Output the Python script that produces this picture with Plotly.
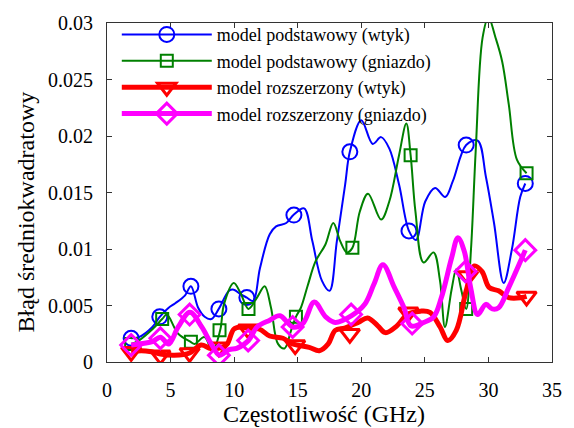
import plotly.graph_objects as go

# ---- data ----
blue_x = [1.9, 2.5, 3.57, 4.15, 4.85, 5.37, 6.14, 6.6, 7.17, 7.68, 8.2, 8.79, 9.6, 9.97, 10.5, 11.0, 11.5,
          12.03, 12.8, 13.3, 14.1, 14.66, 15.5, 16.15, 16.9, 17.5, 18.08, 18.73, 19.1, 20.0, 20.9, 21.56,
          22.2, 22.97, 23.75, 24.3, 25.03, 25.8, 26.6, 27.2, 28.25, 29.15, 29.8, 30.44, 31.2, 31.85, 32.5, 32.9]
blue_y = [0.0021, 0.0022, 0.0031, 0.0040, 0.0048, 0.0052, 0.0059, 0.0067, 0.0048, 0.0040, 0.0038, 0.0047,
          0.0063, 0.0064, 0.0060, 0.0057, 0.0054, 0.0083, 0.0113, 0.0120, 0.0123, 0.0130, 0.0136, 0.0107,
          0.0072, 0.0063, 0.0107, 0.0157, 0.0186, 0.0214, 0.0193, 0.0199, 0.0189, 0.0157, 0.0116, 0.0108,
          0.0142, 0.0154, 0.0146, 0.0160, 0.0192, 0.0196, 0.0164, 0.0123, 0.0070, 0.0100, 0.0146, 0.0158]
blue_mx = [1.9, 4.15, 6.6, 8.8, 11.0, 14.7, 19.1, 23.75, 28.25, 32.9]
blue_my = [0.0021, 0.0040, 0.0067, 0.0047, 0.0057, 0.0130, 0.0186, 0.0116, 0.0192, 0.0158]

green_x = [1.9, 2.5, 3.57, 4.34, 4.7, 5.6, 6.55, 6.9, 7.66, 8.3, 8.9, 9.2, 9.97, 10.5, 11.13, 11.8, 12.4,
           12.9, 13.45, 13.96, 14.48, 14.86, 15.25, 15.77, 16.4, 17.18, 17.8, 18.34, 18.86, 19.3, 19.88,
           20.53, 21.56, 22.2, 22.97, 23.54, 23.88, 24.26, 24.9, 25.68, 26.19, 26.58, 27.1, 27.47, 27.86,
           28.25, 28.63, 29.0, 29.54, 30.0, 30.56, 31.08, 31.6, 32.24, 33.0]
green_y = [0.0016, 0.0019, 0.0029, 0.0038, 0.0042, 0.0025, 0.0018, 0.0016, 0.0022, 0.0010, 0.0028, 0.0051,
           0.0070, 0.0061, 0.0047, 0.0057, 0.0067, 0.0048, 0.0016, 0.0012, 0.0028, 0.0040, 0.0048, 0.0067,
           0.0089, 0.0104, 0.0123, 0.0107, 0.0097, 0.0101, 0.0133, 0.0149, 0.0126, 0.0142, 0.0183, 0.0211,
           0.0183, 0.0133, 0.0088, 0.0097, 0.0072, 0.0031, 0.0064, 0.0082, 0.0064, 0.0047, 0.0100, 0.0187,
           0.0287, 0.0305, 0.0287, 0.0266, 0.0228, 0.0179, 0.0167]
green_mx = [1.9, 4.34, 6.6, 8.85, 11.13, 14.86, 19.3, 23.88, 28.25, 33.0]
green_my = [0.0016, 0.0038, 0.0018, 0.0028, 0.0047, 0.0040, 0.0101, 0.0183, 0.0047, 0.0167]

red_x = [1.9, 2.7, 3.5, 4.2, 5.3, 6.5, 7.4, 8.17, 9.07, 9.46, 9.97, 10.5, 11.1, 12.0, 12.8, 13.84, 14.6,
         15.9, 16.7, 17.4, 17.95, 18.7, 19.75, 20.5, 21.3, 21.9, 22.8, 23.6, 24.65, 25.4, 26.2, 26.8, 27.47,
         28.25, 28.9, 29.5, 30.05, 30.8, 31.6, 32.6, 33.0]
red_y = [0.0009, 0.0010, 0.0009, 0.0007, 0.0006, 0.0008, 0.0015, 0.0012, 0.0013, 0.0016, 0.0029, 0.0031,
         0.0030, 0.0029, 0.0023, 0.0021, 0.0016, 0.0013, 0.0010, 0.0016, 0.0028, 0.0030, 0.0035, 0.0039,
         0.0032, 0.0026, 0.0032, 0.0042, 0.0045, 0.0044, 0.0031, 0.0019, 0.0028, 0.0063, 0.0085, 0.0080,
         0.0066, 0.0063, 0.0057, 0.0057, 0.0058]
red_mx = [1.9, 4.2, 6.5, 8.8, 11.1, 14.8, 19.1, 23.7, 28.4, 33.0]
red_my = [0.0009, 0.0006, 0.0008, 0.0013, 0.0029, 0.0015, 0.0025, 0.0044, 0.0076, 0.0058]

mag_x = [1.9, 2.5, 3.57, 4.2, 4.85, 5.6, 6.52, 7.45, 8.2, 8.84, 9.6, 10.2, 11.13, 11.8, 12.8, 13.6, 14.6,
         15.4, 16.3, 17.2, 17.95, 19.24, 20.27, 21.0, 21.7, 22.6, 23.36, 23.9, 24.9, 25.7, 26.3, 27.1, 27.6,
         28.1, 28.6, 29.15, 29.8, 30.3, 30.8, 31.6, 32.4, 32.9]
mag_y = [0.0015, 0.0016, 0.0018, 0.0022, 0.0016, 0.0031, 0.0044, 0.0031, 0.0016, 0.0006, 0.0011, 0.0012,
         0.0019, 0.0031, 0.0037, 0.0041, 0.0031, 0.0034, 0.0053, 0.0040, 0.0035, 0.0041, 0.0051, 0.0069,
         0.0086, 0.0066, 0.0048, 0.0032, 0.0035, 0.0040, 0.0057, 0.0092, 0.0110, 0.0098, 0.0066, 0.0042,
         0.0051, 0.0047, 0.0048, 0.0066, 0.0086, 0.0099]
mag_mx = [1.9, 4.2, 6.5, 8.8, 11.1, 14.6, 19.2, 24.0, 28.2, 32.9]
mag_my = [0.0015, 0.0021, 0.0042, 0.0006, 0.0019, 0.0031, 0.0042, 0.0034, 0.0080, 0.0099]

names = ["model podstawowy (wtyk)", "model podstawowy (gniazdo)",
         "model rozszerzony (wtyk)", "model rozszerzony (gniazdo)"]
x_ticks = [0, 5, 10, 15, 20, 25, 30, 35]
y_ticks = [0, 0.005, 0.01, 0.015, 0.02, 0.025, 0.03]
y_ticktext = ["0", "0.005", "0.01", "0.015", "0.02", "0.025", "0.03"]
x_title = "Częstotliwość (GHz)"
y_title = "Błąd średniokwadratowy"

series = [
    (blue_x, blue_y, blue_mx, blue_my, "#0000FF", 2, "circle-open", 15, 2),
    (green_x, green_y, green_mx, green_my, "#008000", 2, "square-open", 12, 2),
    (red_x, red_y, red_mx, red_my, "#FF0000", 5, "triangle-down-open", 17, 3),
    (mag_x, mag_y, mag_mx, mag_my, "#FF00FF", 5, "diamond-open", 16, 3),
]

SERIF = "Tinos, 'Liberation Serif', 'DejaVu Serif', serif"

fig = go.Figure()
for (lx, ly, mx, my, col, lw, sym, ms, mlw), name in zip(series, names):
    fig.add_trace(go.Scatter(x=lx, y=ly, mode="lines", showlegend=False,
                             line=dict(color=col, width=lw, shape="spline", smoothing=1.0)))
    fig.add_trace(go.Scatter(x=mx, y=my, mode="markers", showlegend=False,
                             marker=dict(symbol=sym, size=ms, color=col, line=dict(color=col, width=mlw))))
for (lx, ly, mx, my, col, lw, sym, ms, mlw), name in zip(series, names):
    fig.add_trace(go.Scatter(x=[None], y=[None], mode="lines+markers", name=name,
                             line=dict(color=col, width=lw),
                             marker=dict(symbol=sym, size=ms, color=col, line=dict(color=col, width=mlw))))

axis_common = dict(showline=True, linecolor="#333333", linewidth=1, mirror="allticks",
                   ticks="inside", ticklen=5, tickcolor="#333333", showgrid=False, zeroline=False,
                   tickfont=dict(family=SERIF, size=20, color="#000000"))
fig.update_layout(
    width=574, height=428,
    margin=dict(l=107, r=13, t=20, b=66),
    paper_bgcolor="white", plot_bgcolor="white",
    font=dict(family=SERIF, color="#000000"),
    xaxis=dict(range=[0, 35], tickvals=x_ticks, ticklabelstandoff=10, **axis_common),
    yaxis=dict(range=[0, 0.03], tickvals=y_ticks, ticktext=y_ticktext, ticklabelstandoff=9, **axis_common),
    legend=dict(x=0.022, y=1.02, xanchor="left", yanchor="top", bgcolor="rgba(0,0,0,0)",
                font=dict(family=SERIF, size=18), itemwidth=90, tracegroupgap=0),
    annotations=[
        dict(text=x_title, xref="paper", yref="paper", x=0.487, y=-0.152, xanchor="center", yanchor="middle",
             showarrow=False, font=dict(family=SERIF, size=24, color="#000000")),
        dict(text=y_title, xref="paper", yref="paper", x=-0.18, y=0.444, xanchor="center", yanchor="middle",
             textangle=-90, showarrow=False, font=dict(family=SERIF, size=24, color="#000000")),
    ],
)
fig.write_html("out.html")
